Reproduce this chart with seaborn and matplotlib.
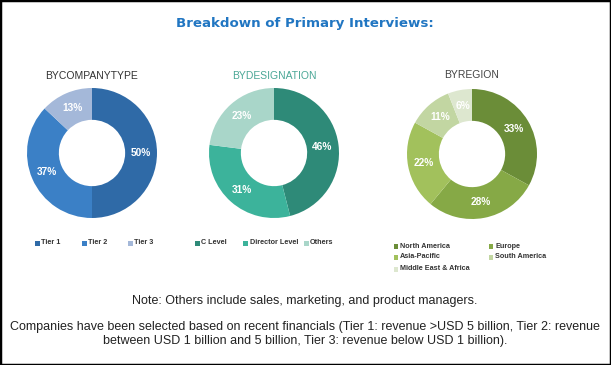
import matplotlib
matplotlib.use("Agg")
import matplotlib.pyplot as plt
import seaborn as sns
from matplotlib.patches import Rectangle

sns.set_theme(style="white")
plt.rcParams['font.family'] = ['Liberation Sans', 'DejaVu Sans']

# Data
company_labels = ["Tier 1", "Tier 2", "Tier 3"]
company_values = [50, 37, 13]
company_colors = ["#2f6aa7", "#3b80c6", "#a4b8d9"]

designation_labels = ["C Level", "Director Level", "Others"]
designation_values = [46, 31, 23]
designation_colors = ["#2e8a78", "#3cb39b", "#a9d6c9"]

region_labels = ["North America", "Europe", "Asia-Pacific", "South America", "Middle East & Africa"]
region_values = [33, 28, 22, 11, 6]
region_colors = ["#6b8d38", "#86a946", "#a2c15c", "#c2d6a2", "#dde7cf"]

W, H = 611, 365
fig = plt.figure(figsize=(W / 100, H / 100), dpi=100)
fig.patch.set_facecolor("white")

def fx(x):
    return x / W

def fy(y):
    return 1 - y / H

def donut(cx, cy, r, values, colors, title, title_color, title_y):
    ax = fig.add_axes([(cx - r) / W, 1 - (cy + r) / H, 2 * r / W, 2 * r / H])
    wedges, _, autotexts = ax.pie(values, colors=colors, startangle=90, counterclock=False,
                                  radius=1, wedgeprops=dict(width=0.49, linewidth=0),
                                  autopct=lambda p: f"{p:.0f}%", pctdistance=0.75)
    for t in autotexts:
        t.set_color("white")
        t.set_fontsize(7.3)
        t.set_fontweight("bold")
    ax.set_xlim(-1, 1)
    ax.set_ylim(-1, 1)
    ax.set_aspect("equal")
    ax.axis("off")
    fig.text(fx(cx), fy(title_y), title, ha="center", va="center",
             fontsize=7.5, color=title_color)
    return ax

donut(92, 153, 65, company_values, company_colors, "BYCOMPANYTYPE", "#333333", 76)
donut(274, 153, 65, designation_values, designation_colors, "BYDESIGNATION", "#4aa796", 76)
donut(472, 154, 65, region_values, region_colors, "BYREGION", "#444444", 75)

def legend(labels, colors, positions):
    for lab, col, (x, y) in zip(labels, colors, positions):
        fig.patches.append(Rectangle((fx(x - 2.5), fy(y + 2.5)), 5 / W, 5 / H,
                                     transform=fig.transFigure, facecolor=col,
                                     edgecolor="none"))
        fig.text(fx(x + 4), fy(y), lab, ha="left", va="center", fontsize=5.2,
                 fontweight="bold", color="#333333")

legend(company_labels, company_colors, [(37, 243), (84, 243), (130, 243)])
legend(designation_labels, designation_colors, [(197, 243), (246, 243), (306, 243)])
legend(region_labels, region_colors,
       [(396, 246), (491, 246), (396, 257), (491, 257), (396, 269)])

fig.text(fx(305), fy(23), "Breakdown of Primary Interviews:", ha="center", va="center",
         fontsize=9.6, fontweight="bold", color="#2176c2", family=["DejaVu Sans"])

fig.text(fx(305), fy(301), "Note: Others include sales, marketing, and product managers.",
         ha="center", va="center", fontsize=9, color="#222222")
fig.text(fx(305), fy(334),
         "Companies have been selected based on recent financials (Tier 1: revenue >USD 5 billion, Tier 2: revenue\n"
         "between USD 1 billion and 5 billion, Tier 3: revenue below USD 1 billion).",
         ha="center", va="center", fontsize=9, color="#222222", linespacing=1.2)

fig.patches.append(Rectangle((0, 0), 1, 1, transform=fig.transFigure, fill=False,
                             edgecolor="black", linewidth=2.5))

fig.savefig("out.png", dpi=100)
